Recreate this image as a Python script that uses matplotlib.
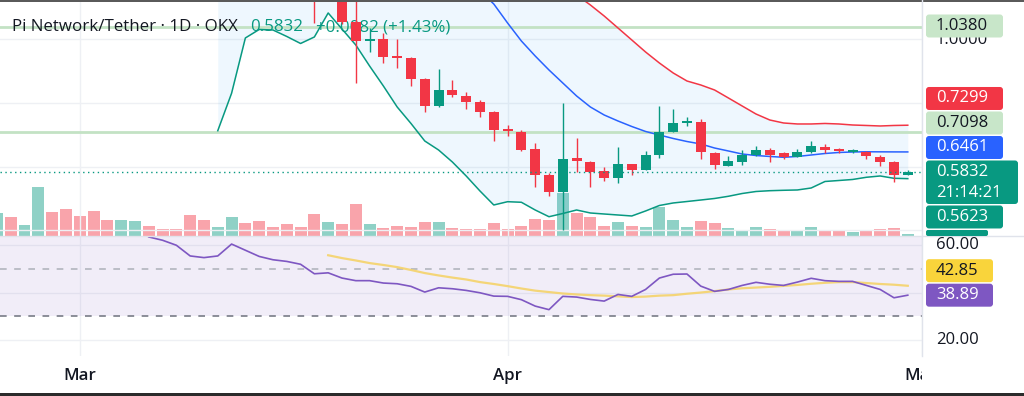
import matplotlib
matplotlib.use("Agg")
import matplotlib.dates as mdates
import matplotlib.pyplot as plt
import numpy as np
import pandas as pd
from matplotlib.patches import FancyBboxPatch, Rectangle

plt.rcParams["font.family"] = ["Open Sans", "DejaVu Sans"]

W, H = 1024, 396
UP = "#089981"
DOWN = "#F23645"
BLUE = "#2962FF"
PURPLE = "#7E57C2"
YELLOW = "#F5D36A"
TEXT = "#131722"
GRID = "#eef0f4"
FS = 12

# ---- data: PI/USDT daily, OKX ----
# volume bars, 2025-02-23 .. 2025-04-30 (relative units)
volume = [23, 18.4, 10.7, 48.4, 24, 26.4, 19.7, 25, 15.7, 15.7,
          14.7, 9.7, 7, 7, 20.4, 16, 9, 19, 12.4, 14.7,
          8.7, 11.4, 8.7, 21.4, 13.7, 11.4, 31.7, 12, 7.4, 9.7,
          8.7, 13.4, 13.4, 7.7, 6.7, 6.4, 12.7, 6.4, 10, 16.5,
          15.7, 43, 22.7, 18.4, 10, 14, 9.7, 9, 29, 15.7,
          9, 15, 12.4, 8, 5.7, 8.7, 6.7, 5.4, 5.4, 9,
          5.7, 4.7, 4, 4.7, 6.4, 8, 1.7]
volume_up = [1, 0, 1, 1, 0, 0, 0, 0, 0, 1,
             1, 0, 0, 0, 0, 0, 1, 1, 0, 0,
             0, 0, 0, 0, 1, 0, 0, 1, 0, 0,
             0, 0, 1, 0, 0, 0, 0, 0, 0, 0,
             0, 1, 0, 0, 0, 1, 0, 1, 1, 1,
             1, 0, 0, 1, 1, 1, 0, 0, 1, 1,
             0, 0, 1, 0, 0, 0, 1]

# candles, 2025-03-18 .. 2025-04-30
opens = [1.19, 1.131, 1.17, 1.0548, 0.9937, 1.0006, 0.9474, 0.9415, 0.8745, 0.7898,
         0.8401, 0.8223, 0.8036, 0.7721, 0.716, 0.710, 0.6549, 0.5741, 0.519, 0.6263,
         0.6155, 0.586, 0.5633, 0.6076, 0.5899, 0.6362, 0.7091, 0.7376, 0.7406, 0.6441,
         0.6017, 0.6155, 0.6362, 0.652, 0.6421, 0.6313, 0.647, 0.6628, 0.6559, 0.648,
         0.647, 0.6313, 0.6145, 0.575]
highs = [1.24, 1.21, 1.19, 1.13, 1.0341, 1.0183, 0.9996, 0.9435, 0.8765, 0.9051,
         0.8716, 0.8351, 0.8086, 0.7741, 0.7307, 0.715, 0.6736, 0.581, 0.7987, 0.6884,
         0.6175, 0.5978, 0.6628, 0.6086, 0.650, 0.7898, 0.780, 0.7564, 0.7485, 0.646,
         0.6332, 0.652, 0.6648, 0.6579, 0.647, 0.6539, 0.6815, 0.6707, 0.6588, 0.6549,
         0.649, 0.6362, 0.6185, 0.5899]
lows = [1.0509, 1.127, 1.0479, 0.8617, 0.9602, 0.9238, 0.908, 0.8529, 0.7701, 0.7859,
        0.8174, 0.780, 0.7564, 0.6805, 0.6963, 0.649, 0.5347, 0.5081, 0.4008, 0.584,
        0.5367, 0.5554, 0.5475, 0.5741, 0.588, 0.6263, 0.7081, 0.7278, 0.6244, 0.5919,
        0.6007, 0.6047, 0.6332, 0.6155, 0.6234, 0.6293, 0.6421, 0.6421, 0.6421, 0.6441,
        0.6244, 0.6017, 0.5525, 0.574]
closes = [1.131, 1.17, 1.0548, 0.9947, 0.9996, 0.9445, 0.9425, 0.8745, 0.7898, 0.8401,
          0.8243, 0.8036, 0.7721, 0.715, 0.712, 0.652, 0.5741, 0.519, 0.6244, 0.6175,
          0.584, 0.5633, 0.6076, 0.5899, 0.6362, 0.7091, 0.7376, 0.7406, 0.6451, 0.6047,
          0.6175, 0.6362, 0.652, 0.6362, 0.6313, 0.647, 0.6648, 0.652, 0.650, 0.650,
          0.6332, 0.6135, 0.575, 0.5832]

# Bollinger bands (20, 2)
bb_lower = [0.7127, 0.8301, 1.0036, 1.0302, 1.0286, 1.0083, 0.9863, 1.0067, 1.0820, 1.0318,
            0.9816, 0.9157, 0.8530, 0.7871, 0.7354, 0.6804, 0.6522, 0.6145, 0.5707, 0.5236,
            0.4797, 0.4900, 0.4882, 0.4640, 0.4429, 0.4530, 0.4640, 0.4546, 0.4514, 0.4483,
            0.4452, 0.4609, 0.4781, 0.4860, 0.4906, 0.4953, 0.5001, 0.5070, 0.5157, 0.5220,
            0.5245, 0.5258, 0.5268, 0.5330, 0.5534, 0.5565, 0.5597, 0.5666, 0.5707, 0.5634,
            0.5623]  # from 2025-03-11
bb_basis = [1.1513, 1.1102, 1.0506, 0.9941, 0.9471, 0.9032, 0.8624, 0.8217, 0.7871, 0.7620,
            0.7432, 0.7259, 0.7103, 0.6992, 0.6883, 0.6788, 0.6711, 0.6584, 0.6491, 0.6396,
            0.6349, 0.6319, 0.6293, 0.6319, 0.6365, 0.6412, 0.6444, 0.6459, 0.6466, 0.6464,
            0.6462, 0.6461]  # from 2025-03-30
bb_upper = [1.1384, 1.1071, 1.0725, 1.0349, 0.9973, 0.9596, 0.9251, 0.8938, 0.8686, 0.8561,
            0.8404, 0.8154, 0.7902, 0.7651, 0.7463, 0.7369, 0.7338, 0.7338, 0.7354, 0.7338,
            0.7306, 0.7291, 0.7275, 0.7291, 0.7299]  # from 2025-04-06

levels = [1.0380, 0.7098]

# RSI (14) and its moving average
rsi = [63.4, 62.0, 59.9, 55.4, 54.7, 55.4, 60.4, 57.8, 55.2, 53.8,
       53.1, 51.9, 47.9, 48.3, 46.1, 45.0, 45.0, 44.0, 43.7, 42.6,
       40.2, 42.0, 41.6, 40.9, 39.9, 38.5, 38.4, 37.0, 34.3, 32.8,
       38.4, 38.1, 37.1, 36.4, 39.2, 38.4, 41.3, 46.1, 47.7, 47.8,
       42.7, 40.5, 41.3, 43.0, 44.3, 43.5, 43.0, 44.4, 46.0, 45.0,
       44.7, 44.7, 43.0, 41.3, 37.8, 38.89]  # from 2025-03-06
rsi_ma = [55.7, 54.5, 53.5, 52.4, 51.6, 50.7, 49.5,
          48.2, 47.2, 46.3, 45.5, 44.4, 43.6, 42.7, 41.7, 40.8, 40.2,
          39.6, 39.2, 38.9, 38.7, 38.4, 38.1, 38.3, 38.7, 38.9, 39.5,
          40.0, 40.6, 41.3, 41.8, 42.1, 42.4, 42.8, 43.2, 43.7, 44.1,
          44.4, 44.4, 44.0, 43.6, 43.3, 42.85]  # from 2025-03-19

month_ticks = ["2025-03-01", "2025-04-01", "2025-05-01"]
month_labels = ["Mar", "Apr", "May"]


def xs(start, n):
    return mdates.date2num(pd.date_range(start, periods=n, freq="D"))


x_vol = xs("2025-02-23", len(volume))
x_c = xs("2025-03-18", len(opens))
x_low = xs("2025-03-11", len(bb_lower))
x_mid = xs("2025-03-30", len(bb_basis))
x_up = xs("2025-04-06", len(bb_upper))
x_rsi = xs("2025-03-06", len(rsi))
x_rma = xs("2025-03-19", len(rsi_ma))
x_month = mdates.date2num(pd.to_datetime(month_ticks))

x_ref = mdates.date2num(pd.Timestamp("2025-02-24"))
xlim = (x_ref - 0.78, x_ref + 66.03)
price_lim = (0.3824, 1.1227)
rsi_lim = (13.3, 63.5)


def rect(left, top, right, bottom):
    return [left / W, 1 - bottom / H, (right - left) / W, (bottom - top) / H]


fig = plt.figure(figsize=(W / 100, H / 100), dpi=100)
fig.patch.set_facecolor("white")

ax_v = fig.add_axes(rect(0, 0, 922, 236))
ax = fig.add_axes(rect(0, 0, 922, 236), sharex=ax_v)
ax.patch.set_visible(False)
ax_rsi = fig.add_axes(rect(0, 236.7, 922, 356), sharex=ax_v)
ax_t = fig.add_axes(rect(0, 356, 922, 393), sharex=ax_v)
over = fig.add_axes([0, 0, 1, 1])
over.set_xlim(0, W)
over.set_ylim(H, 0)
over.patch.set_visible(False)
for a in (ax_v, ax, ax_rsi, ax_t, over):
    a.axis("off")
ax_v.set_xlim(*xlim)

# volume
vol_colors = [UP if u else DOWN for u in volume_up]
ax_v.bar(x_vol, volume, width=0.86, color=vol_colors, alpha=0.45, lw=0)
ax_v.set_ylim(-0.3, 236)

# price pane
ax.set_ylim(*price_lim)
for lvl in (0.4, 0.6, 0.8, 1.0):
    ax.axhline(lvl, color=GRID, lw=1, zorder=0)
for xm in x_month:
    ax.axvline(xm, color=GRID, lw=1, zorder=0)
    ax_rsi.axvline(xm, color=GRID, lw=1, zorder=0)

upper_full = np.full(len(x_low), np.nan)
upper_full[len(x_low) - len(bb_upper):] = bb_upper
upper_fill = np.where(np.isnan(upper_full), price_lim[1] + 0.05, upper_full)
ax.fill_between(x_low, bb_lower, upper_fill, color="#2196F3", alpha=0.075, lw=0, zorder=1)

for lvl in levels:
    ax.axhline(lvl, color="#c3e2c4", lw=2, zorder=2)

# legend line: symbol, last close and change
ax.text(12, 27, "Pi Network/Tether \u00b7 1D \u00b7 OKX", transform=over.transData,
        fontsize=12.2, color=TEXT, va="center", ha="left", zorder=2)
ax.text(250, 27, "0.5832", transform=over.transData,
        fontsize=12.2, color=UP, va="center", ha="left", zorder=2)
ax.text(316, 27, "+0.0082 (+1.43%)", transform=over.transData,
        fontsize=12.2, color=UP, va="center", ha="left", zorder=2)

ax.plot(x_low, bb_lower, color=UP, lw=1.1, zorder=3)
ax.plot(x_mid, bb_basis, color=BLUE, lw=1.1, zorder=3)
ax.plot(x_up, bb_upper, color=DOWN, lw=1.1, zorder=3)

o, hi, lo, c = map(np.array, (opens, highs, lows, closes))
up = c >= o
col = np.where(up, UP, DOWN)
body = np.maximum(np.abs(c - o), 0.007)
bottom = (o + c) / 2 - body / 2
ax.vlines(x_c, lo, hi, colors=col, lw=1.0, zorder=4)
ax.bar(x_c, body, bottom=bottom, width=0.72, color=col, lw=0, zorder=5)

ax.axhline(closes[-1], color=UP, lw=1, ls=(0, (1, 2.5)), zorder=6)

# RSI pane
ax_rsi.set_ylim(*rsi_lim)
for lvl in (20, 40, 60):
    ax_rsi.axhline(lvl, color=GRID, lw=1, zorder=0)
ax_rsi.axhspan(30, 70, color=PURPLE, alpha=0.1, lw=0, zorder=1)
ax_rsi.axhline(50, color="#b2b5be", lw=1.2, ls=(0, (4, 4.5)), zorder=2)
ax_rsi.axhline(30, color="#787B86", lw=1.2, ls=(0, (4, 4.5)), zorder=2)
ax_rsi.plot(x_rma, rsi_ma, color=YELLOW, lw=1.6, alpha=0.9, zorder=3)
ax_rsi.plot(x_rsi, rsi, color=PURPLE, lw=1.2, zorder=4)

# time scale
ax_t.set_ylim(0, 1)
for xm, lab in zip(x_month, month_labels):
    ax_t.text(xm, 0.46, lab, ha="center", va="center", fontsize=12.2,
              fontweight="semibold", color=TEXT, clip_on=True)

# separators and screenshot borders
over.plot([922, 922], [0, 356], color="#e0e3eb", lw=1)
over.plot([0, W], [236.3, 236.3], color="#e0e3eb", lw=1)
over.add_patch(Rectangle((0, 393), W, 3, color="#2b2b2b", lw=0))
over.add_patch(Rectangle((0, 0), W, 1.5, color="#5a5a5a", lw=0))


def px(axis, value):
    return H - axis.transData.transform((xlim[0], value))[1]


def tag(y, text, face, fg, width=77, height=23):
    over.add_patch(FancyBboxPatch((926, y - height / 2), width, height,
                                  boxstyle="round,pad=0,rounding_size=3",
                                  fc=face, ec="none", zorder=5))
    over.text(936, y, text, color=fg, fontsize=FS, va="center", ha="left", zorder=6)


def stack(anchor_top, anchor_bot, above, below, h=23, gap=1.5):
    out = []
    prev = anchor_top
    for y, *rest in sorted(above, key=lambda t: -t[0]):
        yc = min(y, prev - gap - h / 2)
        prev = yc - h / 2
        out.append((yc, *rest))
    prev = anchor_bot
    for y, *rest in sorted(below, key=lambda t: t[0]):
        yc = max(y, prev + gap + h / 2)
        prev = yc + h / 2
        out.append((yc, *rest))
    return out


# price scale (1.0000 sits mostly behind the 1.0380 tag, as in the app)
over.text(936, px(ax, 1.0) + 1, "1.0000", color=TEXT, fontsize=FS, va="center", zorder=4)
tag(px(ax, levels[0]) - 1, f"{levels[0]:.4f}", "#c8e6c9", TEXT)

y_last = px(ax, closes[-1])
price_tags = [
    (px(ax, bb_upper[-1]), f"{bb_upper[-1]:.4f}", DOWN, "white"),
    (px(ax, levels[1]), f"{levels[1]:.4f}", "#c8e6c9", TEXT),
    (px(ax, bb_basis[-1]), f"{bb_basis[-1]:.4f}", BLUE, "white"),
]
low_tags = [(px(ax, bb_lower[-1]), f"{bb_lower[-1]:.4f}", UP, "white")]
placed = stack(y_last - 11.5, y_last + 32, price_tags, low_tags)
for y, txt, face, fg in placed:
    tag(y, txt, face, fg)
over.add_patch(FancyBboxPatch((926, placed[-1][0] + 13), 62, 236 - placed[-1][0] - 13,
                              boxstyle="round,pad=0,rounding_size=2", fc=UP, ec="none", zorder=5))

over.add_patch(FancyBboxPatch((926, y_last - 11.5), 92, 43.5,
                              boxstyle="round,pad=0,rounding_size=3", fc=UP, ec="none", zorder=5))
over.text(936, y_last, f"{closes[-1]:.4f}", color="white", fontsize=FS, va="center", zorder=6)
over.text(936, y_last + 21, "21:14:21", color="white", fontsize=FS, va="center", zorder=6)

# RSI scale
for lvl in (60, 20):
    over.text(936, px(ax_rsi, lvl), f"{lvl:.2f}", color=TEXT, fontsize=FS, va="center", zorder=4)
y_rsi = px(ax_rsi, rsi[-1])
tag(y_rsi, f"{rsi[-1]:.2f}", PURPLE, "white", width=67)
for y, txt, face, fg in stack(y_rsi - 11.5, y_rsi + 11.5,
                              [(px(ax_rsi, rsi_ma[-1]), f"{rsi_ma[-1]:.2f}", "#F9D43B", TEXT)], []):
    tag(y, txt, face, fg, width=67)

fig.savefig("out.png", dpi=100, facecolor="white")
